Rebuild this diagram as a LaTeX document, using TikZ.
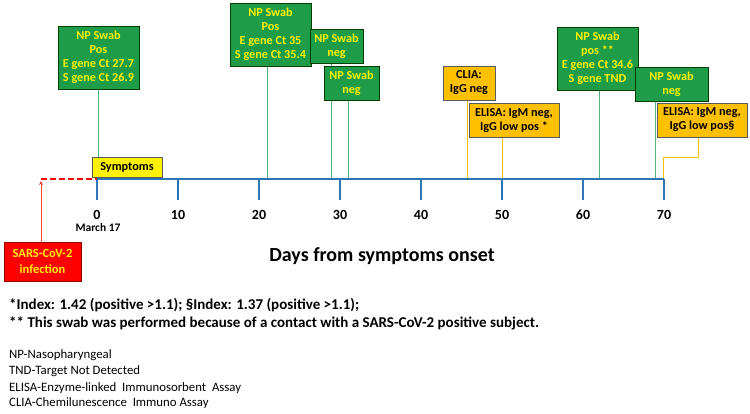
\documentclass[tikz,border=0pt]{standalone}
\usepackage{fontspec}
\setmainfont{Carlito}
\usetikzlibrary{arrows.meta,positioning,backgrounds}
\definecolor{swabgreen}{HTML}{1E9C47}
\definecolor{swabline}{HTML}{4CB474}
\definecolor{sero}{HTML}{FFC000}
\definecolor{axisblue}{HTML}{2E75B6}
\definecolor{infred}{HTML}{FF0000}

\begin{document}
\begin{tikzpicture}[
       x = 1pt, y = -1pt,
   boxfont/.style = {font=\fontsize{12.2}{14}\selectfont\bfseries},
      swab/.style = {boxfont, draw=green!25!black, fill=swabgreen, text=yellow,
                     align=center, inner sep=0pt, minimum width=#1},
      swab/.default = 81,
  serobox/.style = {boxfont, draw=black!65, fill=sero, text=black,
                     align=center, inner sep=0pt, minimum width=#1,
                     minimum height=34},
  swabconn/.style = {draw=swabline, line width=1pt},
  seroconn/.style = {draw=sero, line width=1pt},
   daytick/.style = {draw=axisblue, line width=2.4pt},
  daylabel/.style = {font=\fontsize{14}{16}\selectfont\bfseries},
      note/.style = {anchor=west, inner sep=0pt}
                        ]
    \useasboundingbox (0,0) rectangle (750,413);

    % time axis: 8.1 px per day, day 0 at x=97
    \def\dayx#1{97+8.1*#1}
    \draw[axisblue, line width=2pt] (97,179) -- (664,179);
    \foreach \d in {0,10,...,70}{
        \coordinate (t\d) at ({\dayx{\d}},179);
        \draw[daytick] (t\d) -- ++(0,21);
        \node[daylabel] (l\d) at ({\dayx{\d}},215) {\d};
    }
    \node[font=\fontsize{11.5}{12}\selectfont\bfseries] (march) at (98,228) {March 17};
    \coordinate (t21) at ({\dayx{21}},179);
    \coordinate (t29) at ({\dayx{29}},179);
    \coordinate (t31) at ({\dayx{31}},179);
    \coordinate (t46) at ({\dayx{45.7}},179);
    \coordinate (t62) at ({\dayx{62}},179);
    \coordinate (t69) at ({\dayx{69}},179);

    \node[font=\fontsize{20}{22}\selectfont\bfseries] (title) at (382,256)
        {Days from symptoms onset};

    % infection before onset
    \coordinate (inf) at (41,179);
    \draw[infred, dashed, line width=2pt, dash pattern=on 6pt off 3pt] (inf) -- (t0);
    \node[font=\fontsize{12.5}{15.5}\selectfont\bfseries, draw=red!60!black,
          fill=infred, text=yellow, align=center, inner sep=0pt,
          minimum width=77, minimum height=39] (sars) at (42.5,261.5)
        {SARS-CoV-2\\infection};
    \draw[red!75, line width=0.8pt, -{Stealth[length=4pt,width=4pt]}]
        (sars.north -| inf) -- ([yshift=-2pt]inf);

    \node[boxfont, draw=black!65, fill=yellow, inner sep=0pt,
          minimum width=70, minimum height=20] (sym) at (127,167) {Symptoms};

    % swabs
    \node[swab, minimum height=63] (np1) at (98.5,57.5)
        {NP Swab\\Pos\\E gene Ct 27.7\\S gene Ct 26.9};
    \node[swab, minimum height=63] (np2) at (270.5,34.5)
        {NP Swab\\Pos\\E gene Ct 35\\S gene Ct 35.4};
    \node[swab=53, minimum height=34] (np3) at (336.5,46) {NP Swab\\neg};
    \node[swab=55, minimum height=34] (np4) at (351.5,83) {NP Swab\\neg};
    \node[swab, minimum height=63] (np5) at (597.5,58.5)
        {NP Swab\\pos **\\E gene Ct 34.6\\S gene TND};
    \node[swab=73, minimum height=34] (np6) at (671.5,84) {NP Swab\\neg};

    % serology
    \node[serobox=52] (clia) at (469,83) {CLIA:\\IgG neg};
    \node[serobox=90] (elisa1) at (514,120.5) {ELISA: IgM neg,\\IgG low pos *};
    \node[serobox=90] (elisa2) at (702,120) {ELISA: IgM neg,\\IgG low pos§};

    \begin{scope}[on background layer]
        \draw[swabconn] (np1.south) -- (np1.south |- sym.north);
        \draw[swabconn] (t21 |- np2.south) -- (t21);
        \draw[swabconn] (t29 |- np3.south) -- (t29);
        \draw[swabconn] (t31 |- np4.south) -- (t31);
        \draw[swabconn] (t62 |- np5.south) -- (t62);
        \draw[swabconn] (t69 |- np6.south) -- (t69);
        \draw[seroconn] (t46 |- clia.south) -- (t46);
        \draw[seroconn] (t50 |- elisa1.south) -- (t50);
        \draw[seroconn] ([xshift=-4pt]elisa2.south) -- ++(0,20) -| ([xshift=-1pt]t70);
    \end{scope}

    % footnotes
    \node[note, font=\fontsize{15}{16}\selectfont\bfseries] (fn1) at (9,305)
        {*Index: 1.42 (positive >1.1); §Index: 1.37 (positive >1.1);};
    \node[note, font=\fontsize{15}{16}\selectfont\bfseries] (fn2) at (9,323)
        {** This swab was performed because of a contact with a SARS-CoV-2 positive subject.};
    \node[note, font=\fontsize{12.8}{14}\selectfont] (ab1) at (9,355) {NP-Nasopharyngeal};
    \node[note, font=\fontsize{12.8}{14}\selectfont] (ab2) at (9,371) {TND-Target\ Not Detected};
    \node[note, font=\fontsize{12.8}{14}\selectfont] (ab3) at (9,388) {ELISA-Enzyme-linked\ \ Immunosorbent\ \ Assay};
    \node[note, font=\fontsize{12.8}{14}\selectfont] (ab4) at (9,403) {CLIA-Chemilunescence\ \ Immuno Assay};
\end{tikzpicture}
\end{document}
